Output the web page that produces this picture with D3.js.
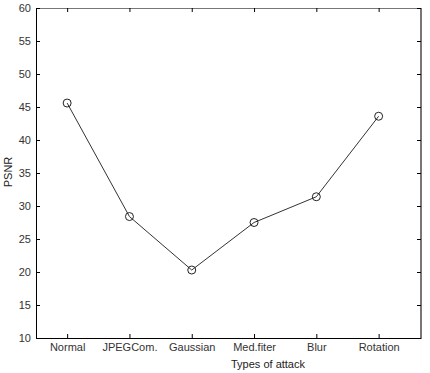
<!DOCTYPE html>
<html>
<head>
<meta charset="utf-8">
<script src="https://cdn.jsdelivr.net/npm/d3@7"></script>
<style>
  body { margin: 0; background: #fff; }
  text { font-family: "Liberation Sans", Arial, sans-serif; font-size: 11px; fill: #222; }
</style>
</head>
<body>
<div id="chart"></div>
<script>
var attacks = ["Normal", "JPEGCom.", "Gaussian", "Med.fiter", "Blur", "Rotation"];
var psnr = [45.6, 28.4, 20.3, 27.5, 31.4, 43.6];
var yTicks = [10, 15, 20, 25, 30, 35, 40, 45, 50, 55, 60];

var W = 430, H = 373;
var plotL = 36, plotR = 421, plotT = 8, plotB = 338;

var svg = d3.select("#chart").append("svg")
  .attr("width", W).attr("height", H);

var x = d3.scaleLinear().domain([0.5, 6.68]).range([plotL, plotR]);
var y = d3.scaleLinear().domain([10, 60]).range([plotB, plotT]);

var data = attacks.map(function (a, i) { return { i: i + 1, name: a, v: psnr[i] }; });

// box
svg.append("line").attr("x1", plotL).attr("x2", plotR).attr("y1", plotT + 0.5).attr("y2", plotT + 0.5)
  .attr("stroke", "#777").attr("stroke-width", 1);
svg.append("line").attr("x1", plotR).attr("x2", plotR).attr("y1", plotT).attr("y2", plotB)
  .attr("stroke", "#777").attr("stroke-width", 2);

// left axis
var yAxis = svg.append("g")
  .attr("transform", "translate(" + plotL + ",0)")
  .call(d3.axisLeft(y).tickValues(yTicks).tickSizeInner(-4).tickSizeOuter(0).tickPadding(5));
yAxis.select(".domain").attr("stroke", "#000");
yAxis.selectAll(".tick line").attr("stroke", "#000");
yAxis.selectAll("text").style("fill", "#333");

// right ticks
svg.append("g")
  .attr("transform", "translate(" + plotR + ",0)")
  .call(d3.axisRight(y).tickValues(yTicks).tickSizeInner(-4).tickSizeOuter(0).tickFormat(""))
  .select(".domain").remove();

// bottom axis
var xAxis = svg.append("g")
  .attr("transform", "translate(0," + plotB + ")")
  .call(d3.axisBottom(x).tickValues(data.map(function (d) { return d.i; }))
    .tickFormat(function (d) { return attacks[d - 1]; })
    .tickSizeInner(-4).tickSizeOuter(0).tickPadding(5));
xAxis.select(".domain").attr("stroke", "#000");
xAxis.selectAll(".tick line").attr("stroke", "#000");
xAxis.selectAll("text").style("fill", "#333");

// top ticks
svg.append("g")
  .attr("transform", "translate(0," + plotT + ")")
  .call(d3.axisTop(x).tickValues(data.map(function (d) { return d.i; }))
    .tickSizeInner(-4).tickSizeOuter(0).tickFormat(""))
  .select(".domain").remove();

// axis labels
svg.append("text")
  .attr("x", 268).attr("y", 368)
  .attr("text-anchor", "middle")
  .text("Types of attack");

svg.append("text")
  .attr("transform", "translate(12," + 172 + ") rotate(-90)")
  .attr("text-anchor", "middle")
  .text("PSNR");

// line
var line = d3.line()
  .x(function (d) { return x(d.i); })
  .y(function (d) { return y(d.v); });

svg.append("path")
  .attr("d", line(data))
  .attr("fill", "none")
  .attr("stroke", "#333")
  .attr("stroke-width", 1);

svg.selectAll(".dot")
  .data(data)
  .enter().append("circle")
  .attr("class", "dot")
  .attr("cx", function (d) { return x(d.i); })
  .attr("cy", function (d) { return y(d.v); })
  .attr("r", 4)
  .attr("fill", "none")
  .attr("stroke", "#222")
  .attr("stroke-width", 1);
</script>
</body>
</html>
